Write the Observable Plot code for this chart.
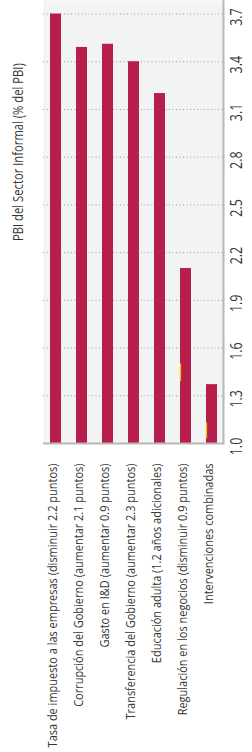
<!DOCTYPE html>
<html><head><meta charset="utf-8">
<script src="https://cdn.jsdelivr.net/npm/d3@7"></script>
<script src="https://cdn.jsdelivr.net/npm/@observablehq/plot@0.6"></script>
<style>
body{margin:0;padding:0;background:#fff;}
#chart svg{display:block;}
</style></head><body><div id="chart"></div>
<script>
const categories = [
  "Tasa de impuesto a las empresas (disminuir 2.2 puntos)",
  "Corrupción del Gobierno (aumentar 2.1 puntos)",
  "Gasto en I&D (aumentar 0.9 puntos)",
  "Transferencia del Gobierno (aumentar 2.3 puntos)",
  "Educación adulta (1.2 años adicionales)",
  "Regulación en los negocios (disminuir 0.9 puntos)",
  "Intervenciones combinadas"
];
const values = [3.70, 3.49, 3.51, 3.40, 3.20, 2.10, 1.37];
const yTicks = [1.0, 1.3, 1.6, 1.9, 2.2, 2.5, 2.8, 3.1, 3.4, 3.7];
const markerCategories = [
  "Regulación en los negocios (disminuir 0.9 puntos)",
  "Intervenciones combinadas"
];
const markerLow = [1.39, 1.03];
const markerHigh = [1.50, 1.13];
const axisTitle = "PBI del Sector Informal (% del PBI)";

const data = categories.map((c, i) => ({category: c, value: values[i]}));
const markers = markerCategories.map((c, i) => ({category: c, lo: markerLow[i], hi: markerHigh[i]}));

const font = "'Open Sans', 'Noto Sans', sans-serif";

const chart = Plot.plot({
  width: 252, height: 752,
  marginLeft: 43, marginRight: 29, marginTop: 0, marginBottom: 309,
  style: {fontFamily: font, color: "#363636", background: "#fff"},
  x: {domain: categories, paddingInner: 0.577, paddingOuter: 0.25, label: null},
  y: {domain: [1, 3.785], label: null},
  marks: [
    Plot.frame({fill: "#f2f4f3", stroke: null}),
    Plot.gridY(yTicks, {stroke: "#9a9a9a", strokeOpacity: 1, strokeDasharray: "1,2.5", strokeWidth: 1}),
    Plot.barY(data, {x: "category", y1: 1, y2: "value", fill: "#b81e4c"}),
    Plot.ruleX(markers, {x: "category", y1: "lo", y2: "hi", stroke: "#f0be00", strokeWidth: 1.3, dx: -5.5}),
    Plot.ruleY([1], {stroke: "#b8b8b8", strokeWidth: 2}),
    Plot.frame({anchor: "right", stroke: "#b8b8b8", strokeWidth: 2}),
    Plot.axisY(yTicks, {anchor: "right", tickSize: 0, tickPadding: 18, tickRotate: -90, dy: 3, tickFormat: d3.format(".1f"), fontSize: 15.5, label: null}),
    Plot.axisX({anchor: "bottom", tickSize: 0, tickRotate: -90, tickPadding: 20, dx: -3, fontSize: 13.5, label: null}),
    Plot.text([axisTitle], {frameAnchor: "left", rotate: -90, dx: -25, dy: 19, fontSize: 14, fill: "#363636"})
  ]
});
document.getElementById("chart").appendChild(chart);

// condense text along its reading direction to mimic a condensed typeface
function condense(selector, targetLength, refIndex) {
  const texts = Array.from(chart.querySelectorAll(selector));
  if (!texts.length) return;
  const ref = texts[refIndex] || texts[0];
  const len = ref.getComputedTextLength();
  const s = len > 0 ? targetLength / len : 1;
  texts.forEach(t => {
    const tr = t.getAttribute("transform") || "";
    t.setAttribute("transform", tr + ` scale(${s},1)`);
  });
}
condense('g[aria-label="x-axis tick label"] text', 284, 0);
condense('g[aria-label="text"] text', 178, 0);
condense('g[aria-label="y-axis tick label"] text', 17.5, 9);
</script>
</body></html>
